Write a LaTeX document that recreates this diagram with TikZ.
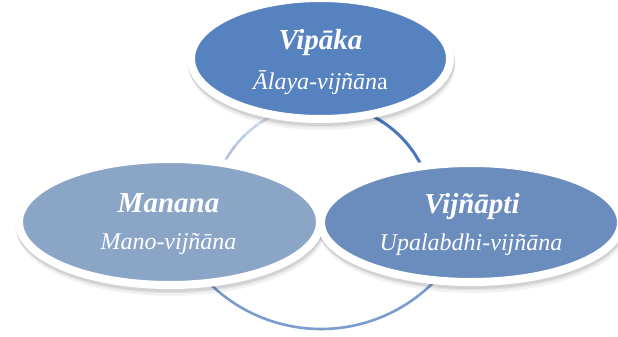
\documentclass[tikz,border=0pt]{standalone}
\usepackage{fontspec}
\setmainfont{Liberation Serif}
\usetikzlibrary{shapes.geometric}

\definecolor{topfill}{RGB}{86,131,191}
\definecolor{leftfill}{RGB}{139,165,199}
\definecolor{rightfill}{RGB}{106,141,190}
\definecolor{ringpale}{RGB}{214,225,240}
\definecolor{ringsoft}{RGB}{160,182,216}
\definecolor{ringdeep}{RGB}{72,120,187}
\definecolor{ringmid}{RGB}{124,156,206}

\tikzset{
  bubble/.style={ellipse, draw=white, line width=8pt, inner sep=0pt, outer sep=0pt},
  haze/.style={fill=black, opacity=#1},
  title/.style={anchor=base, text=white, inner sep=0pt,
    font=\fontsize{29}{29}\selectfont\bfseries\itshape},
  subtitle/.style={anchor=base, text=white, inner sep=0pt,
    font=\fontsize{24}{24}\selectfont\itshape},
  ring/.style={line width=2.6pt}
}

\begin{document}
\begin{tikzpicture}[x=1pt, y=1pt]
  \clip (0,0) rectangle (618,-337);
  \fill[white] (0,0) rectangle (618,-337);

  % centres of the three ellipses and of the ring arcs
  \coordinate (cV) at (320.5,-58.5);
  \coordinate (cM) at (169.5,-222);
  \coordinate (cU) at (471,-222.5);
  \coordinate (cRing) at (322,-215);
  \coordinate (cLow) at (321,-170);

  % ring pieces joining the ellipses
  \foreach \a/\p in {110/100,118/85,126/70,134/50,142/30,150/10}
    \draw[ring, color=ringpale!\p!ringsoft]
      ([shift={(\a:111)}]cRing) arc[start angle=\a, end angle=\a+9, radius=111];
  \draw[ring, line width=3pt, ringdeep]
    ([shift={(70:111)}]cRing) arc[start angle=70, end angle=20, radius=111];
  \draw[ring, ringmid]
    ([shift={(215:159)}]cLow) arc[start angle=215, end angle=325, radius=159];

  % soft shadows under the ellipses
  \foreach \c/\rx/\ry in {cM/154.5/67, cU/154/63.5, cV/133.5/64.5} {
    \fill[haze=0.05] ([shift={(1.5,-7)}]\c) ellipse[x radius=\rx, y radius=\ry];
    \fill[haze=0.06] ([shift={(1,-4.5)}]\c) ellipse[x radius=\rx, y radius=\ry];
    \fill[haze=0.07] ([shift={(0.5,-2.5)}]\c) ellipse[x radius=\rx+0.5, y radius=\ry+0.5];
  }

  % the three ellipses
  \node[bubble, fill=leftfill, minimum width=301pt, minimum height=126pt] (manana) at (cM) {};
  \node[bubble, fill=rightfill, minimum width=300pt, minimum height=119pt] (vijnapti) at (cU) {};
  \node[bubble, fill=topfill, minimum width=259pt, minimum height=121pt] (vipaka) at (cV) {};

  % labels
  \node[title] (vipakaA) at (320.5,-49) {Vipāka};
  \node[subtitle] (vipakaB) at (320.5,-89.5) {Ālaya-vijñān\textup{a}};
  \node[title] (mananaA) at (168.5,-212) {Manana};
  \node[subtitle] (mananaB) at (168.5,-249) {Mano-vijñāna};
  \node[title] (vijnaptiA) at (472,-213) {Vijñāpti};
  \node[subtitle] (vijnaptiB) at (471,-250) {Upalabdhi-vijñāna};
\end{tikzpicture}
\end{document}
